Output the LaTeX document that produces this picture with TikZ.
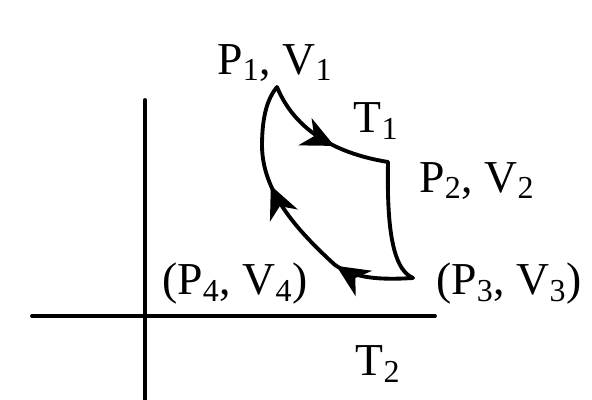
\documentclass[tikz,border=0pt]{standalone}
\usepackage{fontspec}
\setmainfont{Liberation Serif}
\usepackage{tikz}
\usetikzlibrary{arrows.meta,decorations.markings}

\tikzset{
  flow/.style={postaction={decorate},decoration={markings,
    mark=at position #1 with {\arrow{Stealth[length=6.5mm,width=6mm,inset=2mm]}}}},
  lbl/.style={inner sep=0pt}
}

\begin{document}
\begin{tikzpicture}[line width=2.2pt,line cap=round,line join=round,
  font=\fontsize{26}{30}\selectfont]
\useasboundingbox (-2.9,-1.68) rectangle (8.94,6.32);
% axes
\coordinate (ytop) at (0,4.32);
\coordinate (ybot) at (0,-1.7);
\coordinate (xl) at (-2.26,0);
\coordinate (xr) at (5.8,0);
\draw (ybot) -- (ytop);
\draw (xl) -- (xr);
% states of the cycle
\coordinate (s1) at (2.64,4.58);
\coordinate (s2) at (4.86,3.08);
\coordinate (s3) at (5.36,0.76);
\coordinate (s4) at (3.8,1.02);
\draw[flow=0.6] (s1) .. controls (2.9,3.95) and (3.5,3.3) .. (s2);
\draw (s2) .. controls (4.84,2.0) and (4.9,0.95) .. (s3);
\draw[flow=0.98] (s3) .. controls (4.7,0.72) and (4.2,0.75) .. (s4);
\draw[flow=0.5] (s4) .. controls (3.0,1.75) and (2.35,2.5) .. (2.34,3.4)
  .. controls (2.34,4.0) and (2.45,4.35) .. (s1);
% labels
\node[lbl] (l1) at (2.6,5.06) {P\textsubscript{1}, V\textsubscript{1}};
\node[lbl] (t1) at (4.62,3.9) {T\textsubscript{1}};
\node[lbl] (l2) at (6.64,2.7) {P\textsubscript{2}, V\textsubscript{2}};
\node[lbl] (l3) at (7.28,0.64) {(P\textsubscript{3}, V\textsubscript{3})};
\node[lbl] (l4) at (1.8,0.64) {(P\textsubscript{4}, V\textsubscript{4})};
\node[lbl] (t2) at (4.66,-0.96) {T\textsubscript{2}};
\end{tikzpicture}
\end{document}
